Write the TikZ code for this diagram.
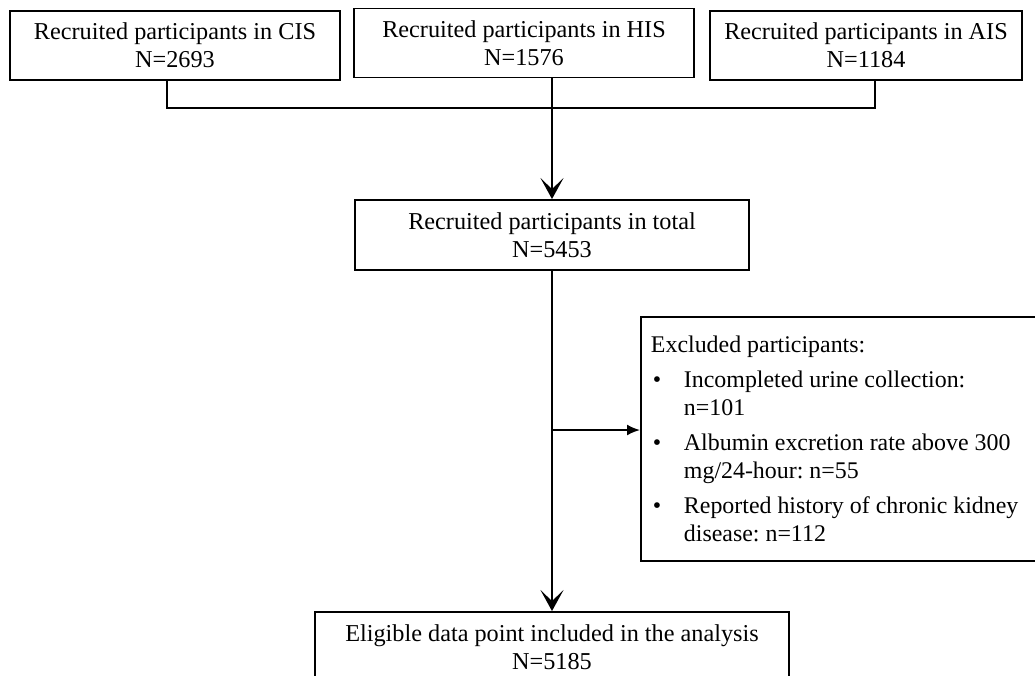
\documentclass[tikz,border=0pt]{standalone}
\usepackage{fontspec}
\setmainfont{Liberation Serif}
\usetikzlibrary{arrows.meta}

\tikzset{
    box/.style={draw, line width=1.1pt, align=center, inner sep=0pt},
    link/.style={line width=1.1pt},
    bigarrow/.style={link, -{Stealth[length=0.42cm, width=0.46cm, inset=0.22cm]}},
    smallarrow/.style={link, -{Latex[length=0.26cm, width=0.22cm]}},
}
\newcommand{\bul}{\makebox[0.66cm][l]{\hspace{0.04cm}\textbullet}}

\begin{document}
\frenchspacing
\begin{tikzpicture}[x=0.02cm, y=-0.02cm, font=\fontsize{13.8}{16}\selectfont]
\useasboundingbox (0,0) rectangle (1035,676);
\clip (0,0) rectangle (1035,676);

% the three recruiting sites
\foreach \name/\x/\y/\w/\site/\num in {
    cis/175/45.5/6.6/CIS/2693,
    his/524/43/6.8/HIS/1576,
    ais/866/45.5/6.24/AIS/1184%
} {
    \node[box, minimum width=\w cm, minimum height=1.38cm] (\name) at (\x,\y) {Recruited participants in \site\\N=\num};
}

\coordinate (join) at (552,108);
\draw[link] ([xshift=-0.16cm]cis.south) |- (join) -| ([xshift=0.18cm]ais.south);

\node[box, minimum width=7.88cm, minimum height=1.4cm] (total) at (552,235) {Recruited participants in total\\N=5453};
\draw[bigarrow] (his.south -| join) -- (total.north);

\node[box, minimum width=9.48cm, minimum height=1.4cm] (elig) at (552,647) {Eligible data point included in the analysis\\N=5185};
\draw[bigarrow] (total.south) -- (elig.north);

% exclusions
\node[box, anchor=north west, minimum height=4.88cm, align=flush left, text width=8.6cm, inner xsep=0.2cm,
      font=\fontsize{13.6}{16}\selectfont] (excl) at (640,316) {%
    Excluded participants:\\[4.2pt]
    \bul Incompleted urine collection:\\
    \hspace*{0.66cm}n=101\\[3.8pt]
    \bul Albumin excretion rate above 300\\
    \hspace*{0.66cm}mg/24-hour: n=55\\[3.8pt]
    \bul Reported history of chronic kidney\\
    \hspace*{0.66cm}disease: n=112};

\coordinate (branch) at (552,430);
\draw[smallarrow] (branch) -- (branch -| excl.west);

\end{tikzpicture}
\end{document}
